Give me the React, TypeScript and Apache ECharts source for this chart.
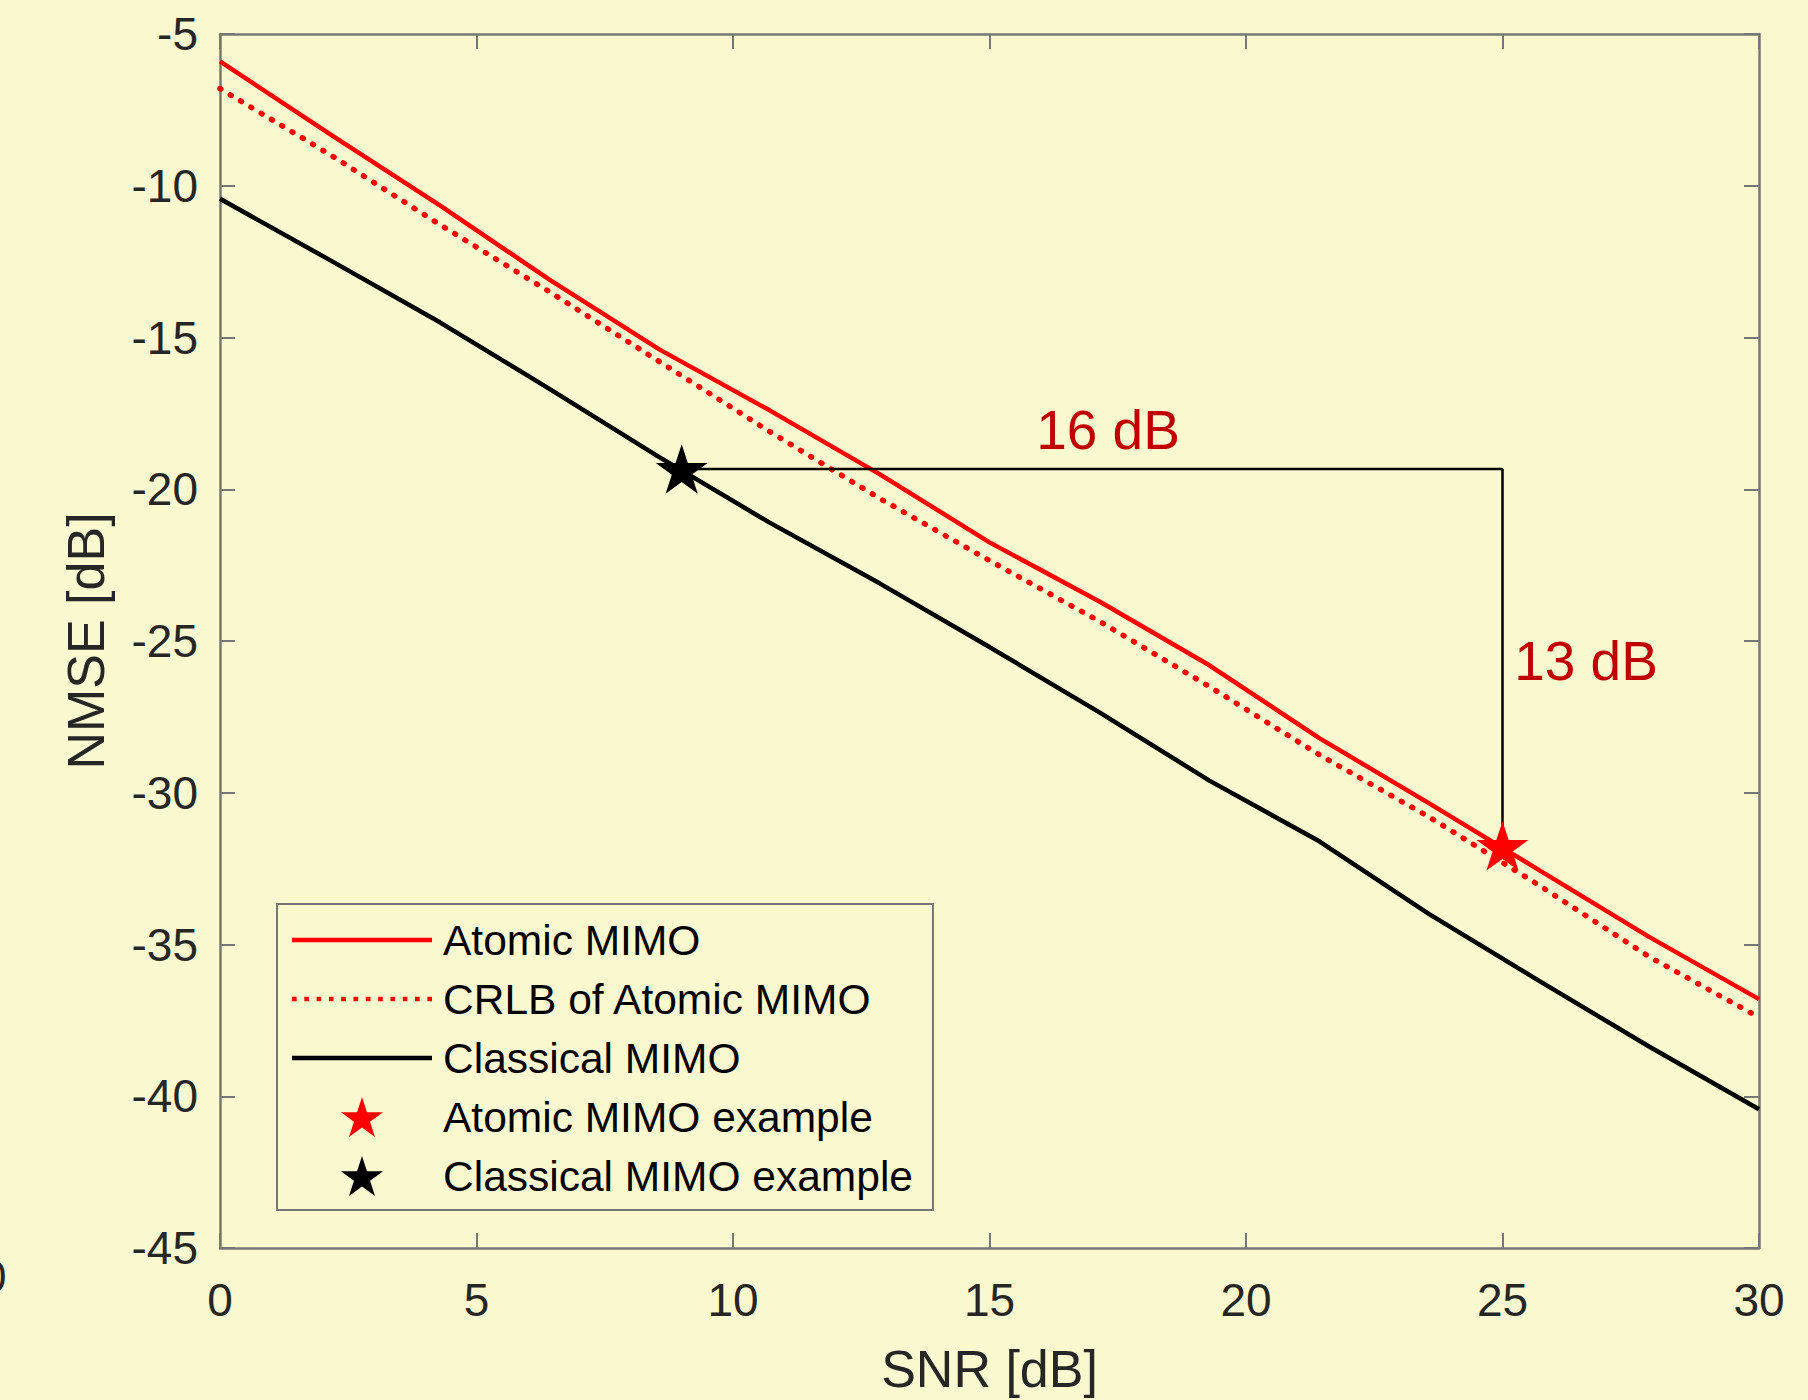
import React, { useEffect, useRef } from "react";
import * as echarts from "echarts";

// ---- data ----
const SNR_DB = [0, 2.143, 4.286, 6.429, 8.571, 10.714, 12.857, 15, 17.143, 19.286, 21.429, 23.571, 25.714, 27.857, 30];
const ATOMIC_MIMO = [-5.9, -8.3, -10.65, -13.1, -15.4, -17.4, -19.5, -21.75, -23.7, -25.8, -28.2, -30.35, -32.55, -34.75, -36.8];
const CRLB_ATOMIC = [-6.8, -8.97, -11.28, -13.5, -15.8, -18.1, -20.3, -22.35, -24.35, -26.5, -28.75, -30.8, -33.05, -35.4, -37.4];
const CLASSICAL_MIMO = [-10.43, -12.45, -14.5, -16.7, -18.95, -21.1, -23.1, -25.2, -27.35, -29.6, -31.6, -34.0, -36.2, -38.36, -40.43];
const ATOMIC_EXAMPLE = [25, -31.75];
const CLASSICAL_EXAMPLE = [9, -19.33];
const SERIES_NAMES = ["Atomic MIMO", "CRLB of Atomic MIMO", "Classical MIMO", "Atomic MIMO example", "Classical MIMO example"];
const GAP_SNR_LABEL = "16 dB";
const GAP_NMSE_LABEL = "13 dB";
const X_AXIS = { name: "SNR [dB]", min: 0, max: 30, interval: 5 };
const Y_AXIS = { name: "NMSE [dB]", min: -45, max: -5, interval: 5 };

const STAR =
  "path://M50 0 L61.23 34.55 L97.55 34.55 L68.17 55.9 L79.39 90.45 L50 69.1 L20.61 90.45 L31.83 55.9 L2.45 34.55 L38.77 34.55 Z";
const SOLID_ICON = "path://M0 0 H140 V4.5 H0 Z";
const DOTTED_ICON =
  "path://" +
  Array.from({ length: 12 }, (_, i) => `M${2 + i * 12} 0 h4.5 v4.5 h-4.5 Z`).join(" ");

const BG = "#FAF8CF";
const AXIS_COLOR = "#777777";
const TEXT_COLOR = "#262626";
const FONT = "'Liberation Sans', Arial, Helvetica, sans-serif";

const zip = (xs: number[], ys: number[]) => xs.map((x, i) => [x, ys[i]]);

export default function App() {
  const ref = useRef<HTMLDivElement>(null);

  useEffect(() => {
    if (!ref.current) return;
    const chart = echarts.init(ref.current, null, { renderer: "svg" });

    const axisCommon = {
      axisLine: { show: true, onZero: false, lineStyle: { color: AXIS_COLOR, width: 2.5 } },
      axisTick: { show: true, inside: true, length: 15, lineStyle: { color: AXIS_COLOR, width: 2 } },
      splitLine: { show: false },
    };

    const legendIcons = [SOLID_ICON, DOTTED_ICON, SOLID_ICON, STAR, STAR];

    const option: any = {
      animation: false,
      backgroundColor: BG,
      textStyle: { fontFamily: FONT },
      grid: { left: 220, top: 34, right: 49, bottom: 149, containLabel: false },
      xAxis: [
        {
          type: "value",
          position: "bottom",
          min: X_AXIS.min,
          max: X_AXIS.max,
          interval: X_AXIS.interval,
          name: X_AXIS.name,
          nameLocation: "middle",
          nameGap: 95,
          nameTextStyle: { fontSize: 52, color: TEXT_COLOR, fontFamily: FONT },
          axisLabel: { fontSize: 46, color: TEXT_COLOR, margin: 29, fontFamily: FONT },
          ...axisCommon,
        },
        {
          type: "value",
          position: "top",
          min: X_AXIS.min,
          max: X_AXIS.max,
          interval: X_AXIS.interval,
          axisLabel: { show: false },
          ...axisCommon,
        },
      ],
      yAxis: [
        {
          type: "value",
          position: "left",
          min: Y_AXIS.min,
          max: Y_AXIS.max,
          interval: Y_AXIS.interval,
          name: Y_AXIS.name,
          nameLocation: "middle",
          nameGap: 108,
          nameRotate: 90,
          nameTextStyle: { fontSize: 52, color: TEXT_COLOR, fontFamily: FONT },
          axisLabel: { fontSize: 46, color: TEXT_COLOR, margin: 22, fontFamily: FONT },
          ...axisCommon,
        },
        {
          type: "value",
          position: "right",
          min: Y_AXIS.min,
          max: Y_AXIS.max,
          interval: Y_AXIS.interval,
          axisLabel: { show: false },
          ...axisCommon,
        },
      ],
      legend: {
        orient: "vertical",
        left: 277,
        top: 904,
        padding: [12, 20, 10, 15],
        itemWidth: 140,
        itemHeight: 40,
        itemGap: 11,
        borderColor: AXIS_COLOR,
        borderWidth: 2,
        backgroundColor: BG,
        symbolKeepAspect: true,
        textStyle: { fontSize: 42.5, color: "#000", lineHeight: 48, fontFamily: FONT, padding: [0, 0, 0, 6] },
        data: SERIES_NAMES.map((name, i) => ({ name, icon: legendIcons[i] })),
      },
      series: [
        {
          name: SERIES_NAMES[0],
          type: "line",
          data: zip(SNR_DB, ATOMIC_MIMO),
          symbol: "none",
          lineStyle: { color: "#FF0000", width: 4.5 },
          itemStyle: { color: "#FF0000" },
          z: 3,
        },
        {
          name: SERIES_NAMES[1],
          type: "line",
          data: zip(SNR_DB, CRLB_ATOMIC),
          symbol: "none",
          lineStyle: { color: "#FF0000", width: 5.5, type: [1, 11], cap: "round" },
          itemStyle: { color: "#FF0000" },
          z: 3,
        },
        {
          name: SERIES_NAMES[2],
          type: "line",
          data: zip(SNR_DB, CLASSICAL_MIMO),
          symbol: "none",
          lineStyle: { color: "#000000", width: 4.5 },
          itemStyle: { color: "#000000" },
          z: 3,
        },
        {
          name: "gap",
          type: "line",
          data: [
            [CLASSICAL_EXAMPLE[0], CLASSICAL_EXAMPLE[1]],
            [ATOMIC_EXAMPLE[0], CLASSICAL_EXAMPLE[1]],
            [ATOMIC_EXAMPLE[0], ATOMIC_EXAMPLE[1]],
          ],
          symbol: "none",
          lineStyle: { color: "#000000", width: 2.5 },
          z: 4,
        },
        {
          name: SERIES_NAMES[3],
          type: "scatter",
          data: [ATOMIC_EXAMPLE],
          symbol: STAR,
          symbolSize: 52,
          symbolKeepAspect: true,
          itemStyle: { color: "#FF0000", opacity: 1 },
          z: 5,
        },
        {
          name: SERIES_NAMES[4],
          type: "scatter",
          data: [CLASSICAL_EXAMPLE],
          symbol: STAR,
          symbolSize: 52,
          symbolKeepAspect: true,
          itemStyle: { color: "#000000", opacity: 1 },
          z: 5,
        },
      ],
      graphic: [
        {
          type: "text",
          x: 1108,
          y: 430,
          style: {
            text: GAP_SNR_LABEL,
            fontSize: 55,
            fontFamily: FONT,
            fill: "#C00000",
            align: "center",
            verticalAlign: "middle",
          },
          z: 10,
        },
        {
          type: "text",
          x: 1586,
          y: 661,
          style: {
            text: GAP_NMSE_LABEL,
            fontSize: 55,
            fontFamily: FONT,
            fill: "#C00000",
            align: "center",
            verticalAlign: "middle",
          },
          z: 10,
        },
        {
          type: "text",
          x: -18,
          y: 1276,
          style: {
            text: "0",
            fontSize: 44,
            fontFamily: FONT,
            fill: TEXT_COLOR,
            align: "left",
            verticalAlign: "middle",
          },
        },
      ],
    };

    chart.setOption(option);
    return () => chart.dispose();
  }, []);

  return (
    <div
      ref={ref}
      style={{ position: "fixed", left: 0, top: 0, width: 1808, height: 1400, background: BG }}
    />
  );
}
